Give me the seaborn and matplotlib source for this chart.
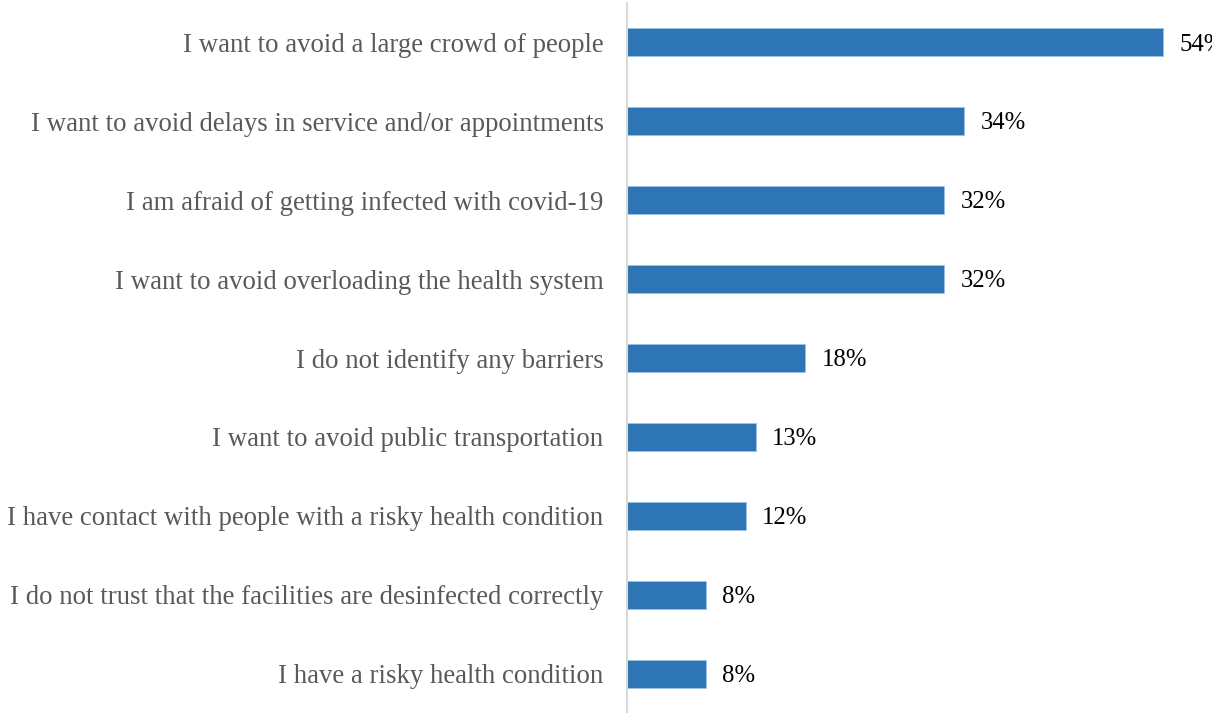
import matplotlib
matplotlib.use("Agg")
import matplotlib.pyplot as plt
import seaborn as sns
import pandas as pd

# Reasons given for not visiting health facilities (share of respondents, %)
reasons = [
    "I want to avoid a large crowd of people",
    "I want to avoid delays in service and/or appointments",
    "I am afraid of getting infected with covid-19",
    "I want to avoid overloading the health system",
    "I do not identify any barriers",
    "I want to avoid public transportation",
    "I have contact with people with a risky health condition",
    "I do not trust that the facilities are desinfected correctly",
    "I have a risky health condition",
]
shares = [54, 34, 32, 32, 18, 13, 12, 8, 8]
value_labels = [f"{v}%" for v in shares]

df = pd.DataFrame({"reason": reasons, "share": shares})

sns.set_theme(style="white")
plt.rcParams["font.family"] = ["Liberation Serif", "DejaVu Serif"]

W, H = 1212, 713
fig = plt.figure(figsize=(W / 100, H / 100), dpi=100)
ax = fig.add_axes([626.5 / W, 0.0, (W - 626.5) / W, 710 / H])

sns.barplot(data=df, x="share", y="reason", orient="h", color="#2E75B6",
            saturation=1, width=0.355, edgecolor="#9DC3E6", linewidth=0.5,
            ax=ax)

ax.set_xlim(0, 58.95)
ax.set_ylim(len(reasons) - 0.5, -0.5)
ax.set_xlabel("")
ax.set_ylabel("")
ax.set_xticks([])
ax.tick_params(axis="y", length=0, pad=16.5, labelsize=19.25, labelcolor="#595959")

for side in ("top", "right", "bottom"):
    ax.spines[side].set_visible(False)
ax.spines["left"].set_color("#D9D9D9")
ax.spines["left"].set_linewidth(1.5)

# value labels just past the end of each bar
for i, (v, lab) in enumerate(zip(shares, value_labels)):
    ax.annotate(lab, xy=(v, i), xytext=(11.8, -1.5), textcoords="offset points",
                ha="left", va="center", fontsize=17.8, color="black",
                annotation_clip=False)

fig.savefig("out.png", dpi=100)
